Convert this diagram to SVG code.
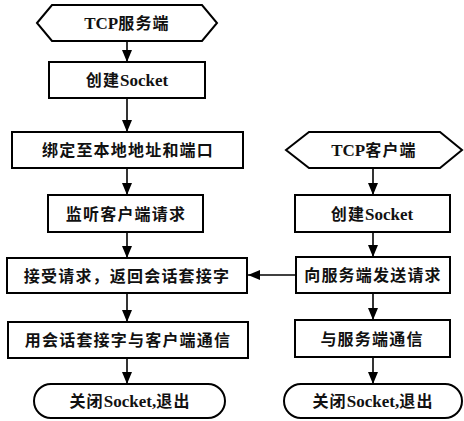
<svg xmlns="http://www.w3.org/2000/svg" width="464" height="421" viewBox="0 0 464 421">
<style>
.s{fill:#fff;stroke:#000;stroke-width:2}
.c{fill:none;stroke:#000;stroke-width:1.6}
text{font-family:"Liberation Serif","Noto Sans CJK SC",serif;font-size:16px;font-weight:bold;text-anchor:middle;fill:#111;letter-spacing:1.2px}
.l{letter-spacing:0;font-size:17px}
</style>
<defs>
<marker id="ah" markerUnits="userSpaceOnUse" markerWidth="12" markerHeight="10" refX="12" refY="5" orient="auto">
<path d="M0,0 L12,5 L0,10 z" fill="#000"/>
</marker>
</defs>
<rect width="464" height="421" fill="#fff"/>
<g id="connectors">
<line class="c" x1="127" y1="41" x2="127" y2="62" marker-end="url(#ah)"/>
<line class="c" x1="127" y1="98" x2="127" y2="132" marker-end="url(#ah)"/>
<line class="c" x1="127" y1="168" x2="127" y2="195" marker-end="url(#ah)"/>
<line class="c" x1="127" y1="232" x2="127" y2="258" marker-end="url(#ah)"/>
<line class="c" x1="127" y1="293" x2="127" y2="322" marker-end="url(#ah)"/>
<line class="c" x1="127" y1="358" x2="127" y2="384" marker-end="url(#ah)"/>
<line class="c" x1="373" y1="168" x2="373" y2="195" marker-end="url(#ah)"/>
<line class="c" x1="373" y1="232" x2="373" y2="257" marker-end="url(#ah)"/>
<line class="c" x1="373" y1="293" x2="373" y2="320" marker-end="url(#ah)"/>
<line class="c" x1="373" y1="357" x2="373" y2="384" marker-end="url(#ah)"/>
<line class="c" x1="296" y1="275" x2="248" y2="275" marker-end="url(#ah)"/>
</g>
<g id="server-start">
<polygon class="s" points="37,23 52,5 202,5 217,23 202,41 52,41"/>
<text x="127" y="29"><tspan class="l">TCP</tspan>服务端</text>
</g>
<g id="server-create">
<rect class="s" x="49" y="62" width="156" height="36"/>
<text x="127" y="86">创建<tspan class="l">Socket</tspan></text>
</g>
<g id="server-bind">
<rect class="s" x="12" y="132" width="231" height="36"/>
<text x="128" y="156">绑定至本地地址和端口</text>
</g>
<g id="server-listen">
<rect class="s" x="48" y="195" width="155" height="37"/>
<text x="126" y="220">监听客户端请求</text>
</g>
<g id="server-accept">
<rect class="s" x="7" y="258" width="240" height="35"/>
<text x="127" y="282">接受请求，返回会话套接字</text>
</g>
<g id="server-comm">
<rect class="s" x="8" y="322" width="240" height="36"/>
<text x="128" y="346">用会话套接字与客户端通信</text>
</g>
<g id="server-end">
<rect class="s" x="34" y="384" width="191" height="34" rx="17" ry="17"/>
<text x="130" y="407">关闭<tspan class="l">Socket,</tspan>退出</text>
</g>
<g id="client-start">
<polygon class="s" points="286,150 309,132 440,132 462,150 440,168 309,168"/>
<text x="374" y="156"><tspan class="l">TCP</tspan>客户端</text>
</g>
<g id="client-create">
<rect class="s" x="295" y="195" width="155" height="37"/>
<text x="372" y="220">创建<tspan class="l">Socket</tspan></text>
</g>
<g id="client-send">
<rect class="s" x="296" y="257" width="154" height="36"/>
<text x="373" y="281">向服务端发送请求</text>
</g>
<g id="client-comm">
<rect class="s" x="295" y="320" width="155" height="37"/>
<text x="372" y="345">与服务端通信</text>
</g>
<g id="client-end">
<rect class="s" x="284" y="384" width="178" height="34" rx="17" ry="17"/>
<text x="373" y="407">关闭<tspan class="l">Socket,</tspan>退出</text>
</g>
</svg>
